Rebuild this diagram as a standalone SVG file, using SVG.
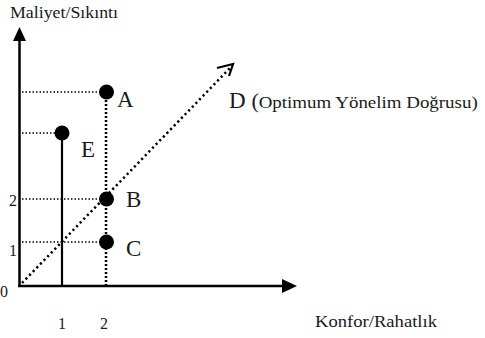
<svg xmlns="http://www.w3.org/2000/svg" width="485" height="338" viewBox="0 0 485 338">
<style>
.t{font-family:"Liberation Serif","Times New Roman",serif;fill:#1a1a1a}
.lbl{font-size:23px}
.num{font-size:16px}
.ax{stroke:#000;stroke-width:2.5;fill:none}
.hd{stroke:#000;stroke-width:1.5;stroke-dasharray:1.5 2;fill:none}
.vd{stroke:#000;stroke-width:2.5;stroke-dasharray:2 2;fill:none}
.dd{stroke:#000;stroke-width:2.5;stroke-dasharray:2.2 3;fill:none}
.pt{fill:#000}
</style>
<rect width="485" height="338" fill="#fff"/>
<g id="axes">
<line class="ax" x1="19.5" y1="287" x2="19.5" y2="38"/>
<polygon points="19.5,27 13,41 26,41" fill="#000"/>
<line class="ax" x1="18" y1="286" x2="285" y2="286"/>
<polygon points="297,286 282,279 282,293" fill="#000"/>
<text class="t" x="10" y="18" font-size="17" textLength="108" lengthAdjust="spacingAndGlyphs">Maliyet/Sıkıntı</text>
<text class="t" x="315" y="327" font-size="17" textLength="122" lengthAdjust="spacingAndGlyphs">Konfor/Rahatlık</text>
<text class="t num" x="9" y="206">2</text>
<text class="t num" x="9" y="256">1</text>
<text class="t num" x="0" y="297">0</text>
<text class="t num" x="58" y="329">1</text>
<text class="t num" x="100" y="329">2</text>
</g>
<g id="connectors">
<line class="hd" x1="22" y1="92" x2="100" y2="92"/>
<line class="hd" x1="22" y1="133" x2="56" y2="133"/>
<line class="hd" x1="22" y1="199" x2="100" y2="199"/>
<line class="hd" x1="22" y1="242" x2="100" y2="242"/>
<line class="vd" x1="106" y1="92" x2="106" y2="286"/>
<line x1="62" y1="133" x2="62" y2="286" stroke="#000" stroke-width="2.2"/>
<line class="dd" x1="22" y1="283" x2="231" y2="67"/>
<polyline points="217,68 233,64 229,76" fill="none" stroke="#000" stroke-width="2.2"/>
</g>
<g id="node-A">
<circle class="pt" cx="106.5" cy="92" r="7.5"/>
<text class="t lbl" x="117" y="107">A</text>
</g>
<g id="node-E">
<circle class="pt" cx="62" cy="133" r="7.5"/>
<text class="t lbl" x="81" y="157">E</text>
</g>
<g id="node-B">
<circle class="pt" cx="106.5" cy="199" r="7.5"/>
<text class="t lbl" x="126" y="207">B</text>
</g>
<g id="node-C">
<circle class="pt" cx="106.5" cy="242" r="7.5"/>
<text class="t lbl" x="126" y="256">C</text>
</g>
<g id="node-D">
<text class="t lbl" x="229" y="108">D <tspan font-size="22">(</tspan><tspan font-size="17" textLength="219" lengthAdjust="spacingAndGlyphs">Optimum Yönelim Doğrusu)</tspan></text>
</g>
</svg>
